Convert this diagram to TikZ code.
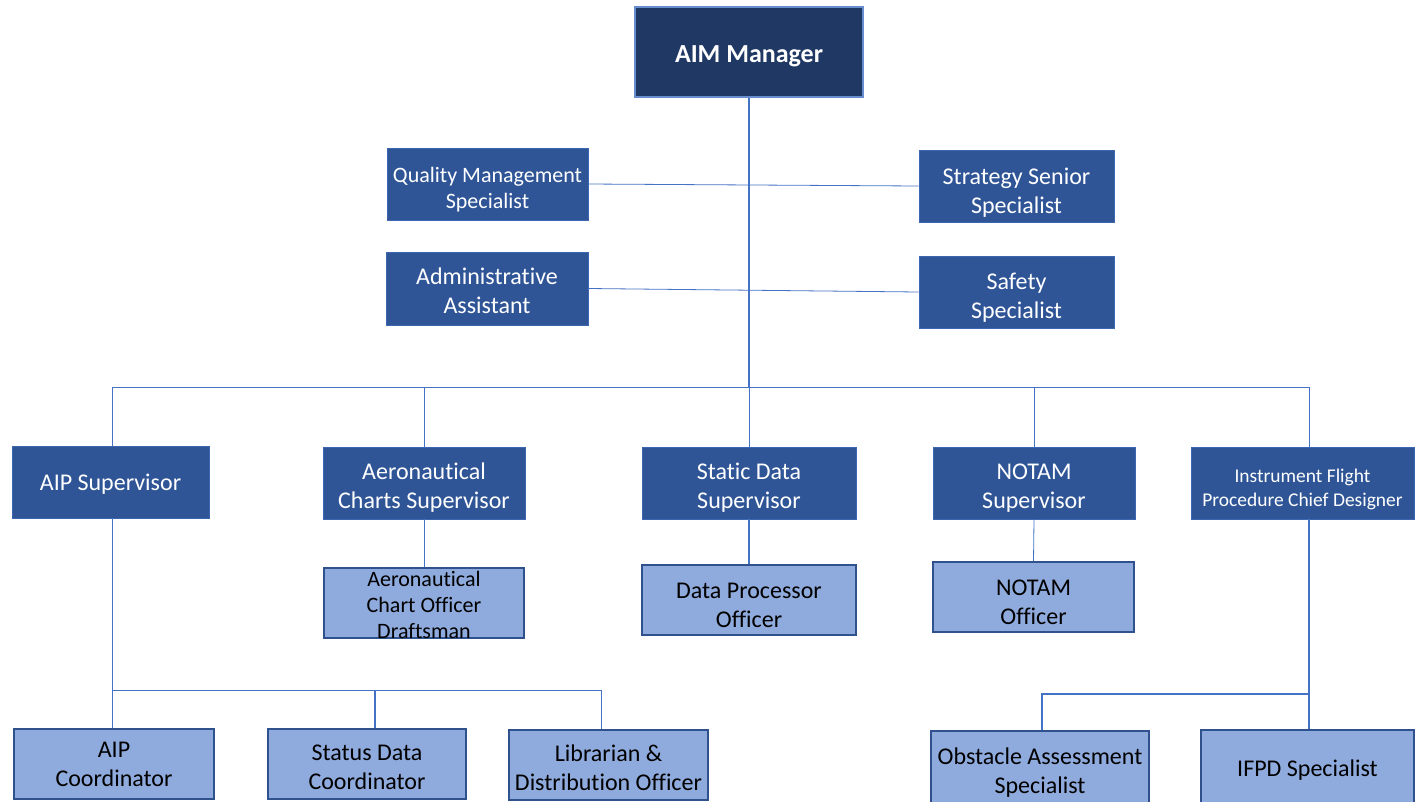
\documentclass[tikz,border=0pt]{standalone}
\usepackage{fontspec}
\setmainfont{Carlito}[Ligatures={NoCommon,NoRare,NoContextual}]
\usetikzlibrary{positioning,calc}

\definecolor{navyboss}{RGB}{31,56,100}
\definecolor{midblue}{RGB}{47,85,151}
\definecolor{paleblue}{RGB}{143,170,220}
\definecolor{linkblue}{RGB}{68,114,196}
\definecolor{paleedge}{RGB}{47,82,143}

\tikzset{
  bossbox/.style={draw=linkblue!80!white, line width=0.9pt, fill=navyboss, text=white, inner sep=0pt, align=center, font=\fontsize{19.5}{23}\selectfont\bfseries},
  midbox/.style={draw=linkblue!60!midblue, line width=0.6pt, fill=midblue, text=white, inner sep=0pt, align=center, font=\fontsize{18}{21.8}\selectfont},
  palebox/.style={draw=paleedge, line width=1.3pt, fill=paleblue, text=black, inner sep=0pt, align=center, font=\fontsize{18}{21.8}\selectfont},
  sized/.style 2 args={minimum width=#1*0.75pt, minimum height=#2*0.75pt},
  drop/.style={execute at begin node={\rule{0pt}{#1}}},
  link/.style={draw=linkblue, line width=0.8pt},
  thinlink/.style={draw=linkblue, line width=0.6pt},
}

\begin{document}
\begin{tikzpicture}[x=0.75pt,y=0.75pt,yscale=-1,xscale=1]
\useasboundingbox (0,0) rectangle (1427,801);
\clip (0,0) rectangle (1427,801);

%Shape: Rectangle [top]
\node[bossbox, sized={228}{90}, drop=18.6pt] (aim) at (749,52) {AIM Manager};

%Shape: Rectangle [staff]
\node[midbox, sized={201}{72}, drop=40pt, font=\fontsize{16.5}{19.5}\selectfont] (qms) at (487.5,184) {Quality Management\\Specialist};
\node[midbox, sized={195}{72}, drop=44.8pt] (sss) at (1016.5,186) {Strategy Senior\\Specialist};
\node[midbox, sized={202}{73}, drop=38.1pt] (adm) at (487,288.5) {Administrative\\Assistant};
\node[midbox, sized={195}{72}, drop=43.3pt] (saf) at (1016.5,292) {Safety\\Specialist};

%Shape: Rectangle [supervisors]
\node[midbox, sized={197}{72}, drop=15.6pt] (aipsup) at (110.5,482) {AIP Supervisor};
\node[midbox, sized={202}{72}, drop=41.8pt] (chsup) at (424,483) {Aeronautical\\Charts Supervisor};
\node[midbox, sized={214}{72}, drop=41.8pt] (stsup) at (749,483) {Static Data\\Supervisor};
\node[midbox, sized={202}{72}, drop=41.8pt] (ntsup) at (1034,483) {NOTAM\\Supervisor};
\node[midbox, sized={223}{72}, drop=37.2pt, font=\fontsize{14.6}{18}\selectfont] (ifsup) at (1302.5,483) {Instrument Flight\\Procedure Chief Designer};

%Shape: Rectangle [officers]
\node[palebox, sized={200}{70}, drop=52.7pt, font=\fontsize{16.5}{19.5}\selectfont] (chof) at (424,603) {Aeronautical\\Chart Officer\\Draftsman};
\node[palebox, sized={214}{70}, drop=41.8pt] (dpo) at (749,600) {Data Processor\\Officer};
\node[palebox, sized={201}{70}, drop=41.8pt] (nto) at (1033.5,597) {NOTAM\\Officer};

%Shape: Rectangle [bottom row]
\node[palebox, sized={200}{70}] (aipco) at (114,764) {AIP\\Coordinator};
\node[palebox, sized={198}{70}, drop=38.8pt] (sdco) at (367,764) {Status Data\\Coordinator};
\node[palebox, sized={199}{70}, drop=38.8pt] (libo) at (608.5,765) {Librarian \&\\Distribution Officer};
\node[palebox, sized={218}{78}, drop=38.8pt] (obs) at (1040,770) {Obstacle Assessment\\Specialist};
\node[palebox, sized={213}{80}] (ifspec) at (1307.5,770) {IFPD Specialist};

%Straight Lines [bus]
\coordinate (busL) at (112,387);
\coordinate (busR) at (1309,387);
\coordinate (aipbusL) at (112,690);
\coordinate (aipbusR) at (601,690);
\coordinate (sdbus) at (375,690);
\coordinate (ifbusL) at (1042,694);
\coordinate (ifbusR) at (1309,694);

%Straight Lines [spine]
\draw[link] (aim.south) -- (aim.south |- busL);
\draw[thinlink] (qms.east) -- (sss.west);
\draw[thinlink] (adm.east) -- (saf.west);
\draw[thinlink] (busL) -- (busR);

%Straight Lines [drops]
\draw[thinlink] (busL) -- (busL |- aipsup.north);
\foreach \n in {chsup,stsup,ntsup}
  \draw[thinlink] (\n.north |- busL) -- (\n.north);
\draw[thinlink] (busR) -- (busR |- ifsup.north);
\draw[thinlink] (chsup.south) -- (chof.north);
\draw[link] (stsup.south) -- (dpo.north);
\draw[thinlink] (ntsup.south) -- (nto.north);

%Straight Lines [AIP branch]
\draw[thinlink] (aipsup.south -| aipbusL) -- (aipco.north -| aipbusL);
\draw[thinlink] (aipbusL) -- (aipbusR) -- (aipbusR |- libo.north);
\draw[link] (sdbus) -- (sdbus |- sdco.north);

%Straight Lines [IFP branch]
\draw[link] (ifsup.south -| ifbusR) -- (ifspec.north -| ifbusR);
\draw[link] (ifbusR) -- (ifbusL) -- (ifbusL |- obs.north);

\end{tikzpicture}
\end{document}
